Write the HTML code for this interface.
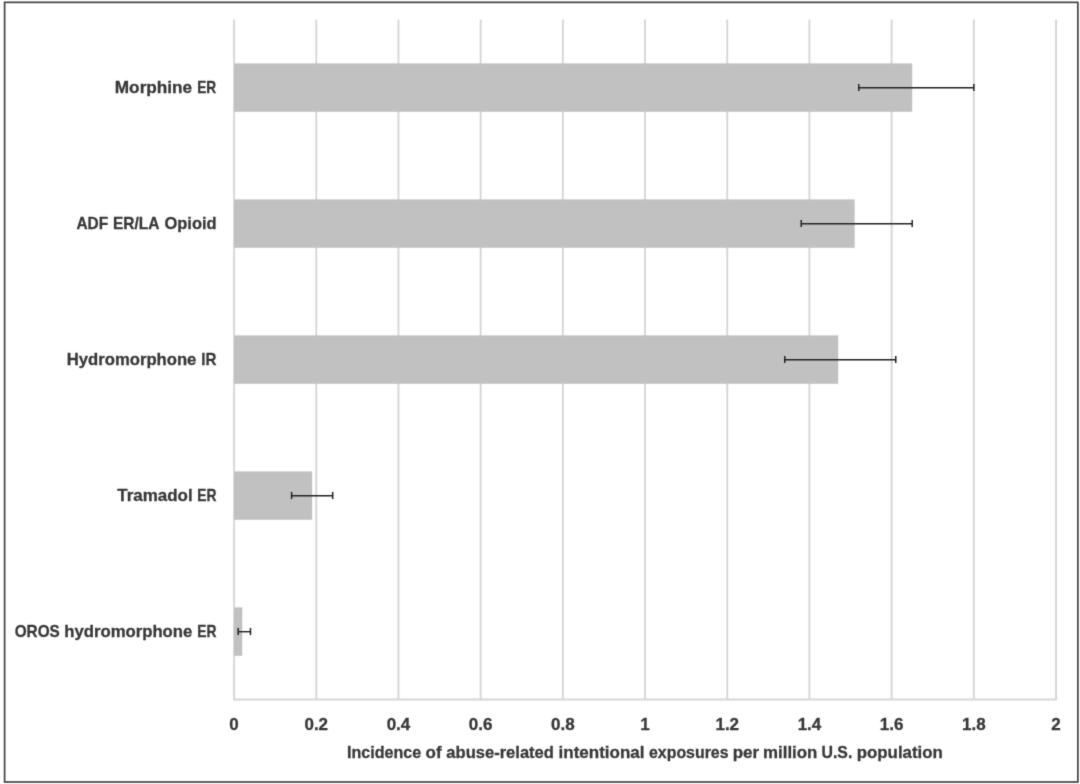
<!DOCTYPE html>
<html><head><meta charset="utf-8"><style>
html,body{margin:0;padding:0;background:#fff;}
svg{display:block;}
text{font-family:"Liberation Sans",sans-serif;font-weight:bold;font-size:17px;fill:#383838;stroke:#383838;stroke-width:0.3px;}
</style></head><body>
<svg width="1080" height="784" viewBox="0 0 1080 784">
<defs><filter id="bl" color-interpolation-filters="sRGB" filterUnits="userSpaceOnUse" x="0" y="0" width="1080" height="784"><feConvolveMatrix order="3" kernelMatrix="0.0144 0.0912 0.0144 0.0912 0.5776 0.0912 0.0144 0.0912 0.0144" edgeMode="duplicate" preserveAlpha="true"/></filter></defs>
<g filter="url(#bl)">
<rect width="1080" height="784" fill="#fff"/>
<rect x="4.6" y="2.35" width="1073.25" height="779.65" fill="#fff" stroke="#444" stroke-width="1.7"/>
<line x1="234.05" y1="19.5" x2="234.05" y2="699.5" stroke="#d6d6d6" stroke-width="1.9"/>
<line x1="316.25" y1="19.5" x2="316.25" y2="699.5" stroke="#d6d6d6" stroke-width="1.9"/>
<line x1="398.45" y1="19.5" x2="398.45" y2="699.5" stroke="#d6d6d6" stroke-width="1.9"/>
<line x1="480.65" y1="19.5" x2="480.65" y2="699.5" stroke="#d6d6d6" stroke-width="1.9"/>
<line x1="562.85" y1="19.5" x2="562.85" y2="699.5" stroke="#d6d6d6" stroke-width="1.9"/>
<line x1="645.05" y1="19.5" x2="645.05" y2="699.5" stroke="#d6d6d6" stroke-width="1.9"/>
<line x1="727.25" y1="19.5" x2="727.25" y2="699.5" stroke="#d6d6d6" stroke-width="1.9"/>
<line x1="809.45" y1="19.5" x2="809.45" y2="699.5" stroke="#d6d6d6" stroke-width="1.9"/>
<line x1="891.65" y1="19.5" x2="891.65" y2="699.5" stroke="#d6d6d6" stroke-width="1.9"/>
<line x1="973.85" y1="19.5" x2="973.85" y2="699.5" stroke="#d6d6d6" stroke-width="1.9"/>
<line x1="1056.05" y1="19.5" x2="1056.05" y2="699.5" stroke="#d6d6d6" stroke-width="1.9"/>
<line x1="233.15" y1="699.5" x2="1056.95" y2="699.5" stroke="#d6d6d6" stroke-width="1.9"/>
<rect x="234.05" y="63.40" width="678.15" height="48.4" fill="#c1c1c1"/>
<rect x="234.05" y="199.40" width="620.61" height="48.4" fill="#c1c1c1"/>
<rect x="234.05" y="335.40" width="604.17" height="48.4" fill="#c1c1c1"/>
<rect x="234.05" y="471.40" width="78.09" height="48.4" fill="#c1c1c1"/>
<rect x="234.05" y="607.40" width="8.22" height="48.4" fill="#c1c1c1"/>
<line x1="858.77" y1="87.70" x2="973.85" y2="87.70" stroke="#222" stroke-width="1.4"/>
<line x1="858.77" y1="83.90" x2="858.77" y2="91.10" stroke="#222" stroke-width="1.5"/>
<line x1="973.85" y1="83.90" x2="973.85" y2="91.10" stroke="#222" stroke-width="1.5"/>
<line x1="801.23" y1="223.70" x2="912.20" y2="223.70" stroke="#222" stroke-width="1.4"/>
<line x1="801.23" y1="219.90" x2="801.23" y2="227.10" stroke="#222" stroke-width="1.5"/>
<line x1="912.20" y1="219.90" x2="912.20" y2="227.10" stroke="#222" stroke-width="1.5"/>
<line x1="784.79" y1="359.70" x2="895.76" y2="359.70" stroke="#222" stroke-width="1.4"/>
<line x1="784.79" y1="355.90" x2="784.79" y2="363.10" stroke="#222" stroke-width="1.5"/>
<line x1="895.76" y1="355.90" x2="895.76" y2="363.10" stroke="#222" stroke-width="1.5"/>
<line x1="291.59" y1="495.70" x2="332.69" y2="495.70" stroke="#222" stroke-width="1.4"/>
<line x1="291.59" y1="491.90" x2="291.59" y2="499.10" stroke="#222" stroke-width="1.5"/>
<line x1="332.69" y1="491.90" x2="332.69" y2="499.10" stroke="#222" stroke-width="1.5"/>
<line x1="238.16" y1="631.70" x2="250.49" y2="631.70" stroke="#222" stroke-width="1.4"/>
<line x1="238.16" y1="627.90" x2="238.16" y2="635.10" stroke="#222" stroke-width="1.5"/>
<line x1="250.49" y1="627.90" x2="250.49" y2="635.10" stroke="#222" stroke-width="1.5"/>
<text x="114.80" y="92.85" textLength="77.40" lengthAdjust="spacingAndGlyphs">Morphine</text>
<text x="197.13" y="92.85" textLength="19.01" lengthAdjust="spacingAndGlyphs">ER</text>
<text x="76.46" y="228.80" textLength="31.66" lengthAdjust="spacingAndGlyphs">ADF</text>
<text x="113.01" y="228.80" textLength="46.54" lengthAdjust="spacingAndGlyphs">ER/LA</text>
<text x="164.47" y="228.80" textLength="52.16" lengthAdjust="spacingAndGlyphs">Opioid</text>
<text x="66.73" y="364.85" textLength="129.68" lengthAdjust="spacingAndGlyphs">Hydromorphone</text>
<text x="201.24" y="364.85" textLength="15.13" lengthAdjust="spacingAndGlyphs">IR</text>
<text x="117.26" y="500.85" textLength="75.39" lengthAdjust="spacingAndGlyphs">Tramadol</text>
<text x="197.32" y="500.85" textLength="19.22" lengthAdjust="spacingAndGlyphs">ER</text>
<text x="14.67" y="636.80" textLength="45.12" lengthAdjust="spacingAndGlyphs">OROS</text>
<text x="64.28" y="636.80" textLength="128.05" lengthAdjust="spacingAndGlyphs">hydromorphone</text>
<text x="197.32" y="636.80" textLength="19.22" lengthAdjust="spacingAndGlyphs">ER</text>
<text x="347.02" y="757.90" textLength="74.17" lengthAdjust="spacingAndGlyphs">Incidence</text>
<text x="425.59" y="757.90" textLength="16.03" lengthAdjust="spacingAndGlyphs">of</text>
<text x="446.37" y="757.90" textLength="107.56" lengthAdjust="spacingAndGlyphs">abuse-related</text>
<text x="558.56" y="757.90" textLength="86.00" lengthAdjust="spacingAndGlyphs">intentional</text>
<text x="649.03" y="757.90" textLength="79.48" lengthAdjust="spacingAndGlyphs">exposures</text>
<text x="732.63" y="757.90" textLength="26.38" lengthAdjust="spacingAndGlyphs">per</text>
<text x="763.04" y="757.90" textLength="54.36" lengthAdjust="spacingAndGlyphs">million</text>
<text x="821.50" y="757.90" textLength="30.84" lengthAdjust="spacingAndGlyphs">U.S.</text>
<text x="856.74" y="757.90" textLength="86.05" lengthAdjust="spacingAndGlyphs">population</text>
<text x="234.05" y="730" text-anchor="middle" style="font-size:17px">0</text>
<text x="316.25" y="730" text-anchor="middle" style="font-size:17px">0.2</text>
<text x="398.45" y="730" text-anchor="middle" style="font-size:17px">0.4</text>
<text x="480.65" y="730" text-anchor="middle" style="font-size:17px">0.6</text>
<text x="562.85" y="730" text-anchor="middle" style="font-size:17px">0.8</text>
<text x="645.05" y="730" text-anchor="middle" style="font-size:17px">1</text>
<text x="727.25" y="730" text-anchor="middle" style="font-size:17px">1.2</text>
<text x="809.45" y="730" text-anchor="middle" style="font-size:17px">1.4</text>
<text x="891.65" y="730" text-anchor="middle" style="font-size:17px">1.6</text>
<text x="973.85" y="730" text-anchor="middle" style="font-size:17px">1.8</text>
<text x="1056.05" y="730" text-anchor="middle" style="font-size:17px">2</text>
</g>
</svg>
</body></html>
